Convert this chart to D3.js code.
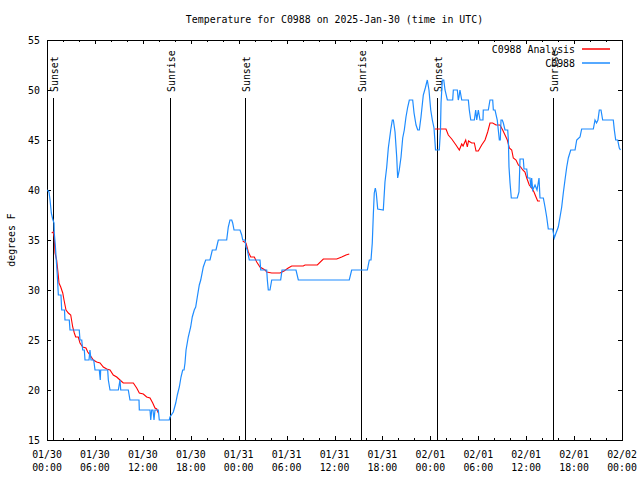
<!DOCTYPE html>
<html>
<head>
<meta charset="utf-8">
<script src="https://cdn.jsdelivr.net/npm/d3@7"></script>
<style>
  body { margin: 0; background: #fff; }
  svg { display: block; font-family: "DejaVu Sans Mono", "Liberation Mono", monospace; }
</style>
</head>
<body>
<svg id="chart" width="640" height="480"></svg>
<script>
// ---- data (hours since 2025-01-30 00:00 UTC) ----
const titleText = "Temperature for C0988 on 2025-Jan-30 (time in UTC)";
const yLabel = "degrees F";
const seriesNames = ["C0988 Analysis", "C0988"];

const obsHours = [0.04,0.25,0.38,0.54,0.71,0.88,0.91,1.04,1.16,1.29,1.42,1.75,1.84,2.19,2.25,2.79,2.88,4.04,4.13,4.35,4.47,4.67,4.76,5.26,5.38,5.51,5.85,6.01,6.55,6.67,6.72,7.6,7.68,7.89,8.93,9.14,9.23,10.18,10.39,11.52,11.56,12.9,12.99,13.11,13.27,13.4,13.52,13.94,14.06,15.31,15.4,15.82,16.12,16.32,16.57,16.78,16.99,17.16,17.28,17.41,17.69,17.99,18.19,18.44,18.62,18.82,19.07,19.25,19.57,19.87,20.41,20.7,21.16,21.45,22.5,22.7,22.91,23.13,23.25,23.42,24.17,24.38,24.51,24.79,24.92,25.08,25.33,26.67,26.76,27.51,27.59,27.71,27.92,28.14,29.26,29.43,31.18,31.47,37.85,38.15,40.11,40.36,40.57,40.73,40.86,40.98,41.11,41.23,41.41,42.11,42.32,42.54,42.74,43.04,43.24,43.37,43.58,43.79,43.91,44.11,44.33,44.54,44.74,44.95,45.17,45.37,45.79,45.96,46.21,46.42,46.62,46.83,47.12,47.37,47.62,47.83,48.05,48.25,48.46,48.65,49.12,49.27,49.34,49.5,49.68,49.84,50.13,50.8,50.88,51.38,51.5,51.59,51.71,51.93,52.76,52.88,53.06,53.51,53.68,53.81,54.01,54.22,54.59,54.63,55.26,55.47,55.81,55.89,56.1,56.38,56.51,56.64,56.76,56.85,57.01,57.14,57.35,57.69,57.77,57.85,57.98,58.14,58.89,59.1,59.23,59.64,59.73,60.07,60.19,60.48,60.6,60.69,60.82,61.11,61.36,61.61,61.73,62.15,62.36,62.57,62.77,63.32,63.52,63.74,64.02,64.24,64.45,64.65,64.86,65.08,65.28,65.58,66.12,66.33,66.74,66.95,68.41,68.62,68.81,68.99,69.16,69.37,69.58,70.91,71.04,71.21,71.46,71.66,71.81];
const obsTemps = [40,39.8,39,37.7,37.1,36.7,35.7,34.5,33,31.5,29.5,29.5,28,28,27,27,26,26,25,25,24,24,23,23,24,23,23,22,22,21,22,22,21,20,20,21,20,20,19,19,18,18,17,18,18,17,18,18,17,17,17.3,17.8,18.7,19.5,20.3,21.3,22,22,22.7,24,25.3,26.3,27.3,28,28.3,29.3,30.5,31,32.3,33,33,34,34,35,35,36.3,37,37,36.7,36,36,35.5,35,35,34.3,34,33,33,32,32,31,30,30,31,31,32,32,31,31,32,32,33,33,34.7,37.5,39.7,40.2,39.7,38.1,38,40.8,42.3,44.2,46,47,47,45.8,43.3,41.2,42,43.3,45.2,46,47.3,48.3,49,49,47.7,46.5,46,46,47.3,49.5,50.2,51,50,48,47,46.2,44,44,46,48.7,51,51,50,49,49,50,50,49,49.3,50,49,49,48,47,47,48,47,48,47,47,48,48,49,49,48,48,47,46,45,45,47,47,46.7,46,46,45,42.3,40.7,39.2,39.2,39.8,43.1,43.1,42.1,42.1,41.2,41.2,40.2,41.2,40,40.5,40,41.2,39.2,39.2,38.3,37.3,36.1,36.1,35.2,35.7,36.3,37.3,38.3,39.7,41,42.3,43.2,44,44,45,45.3,46.1,46.1,47,46.7,47,48,48,47,47,46,45,45,44.2,44];

const anaHours = [0.59,0.79,0.91,1.0,1.21,1.41,1.5,1.72,1.97,2.13,2.38,2.67,2.97,3.22,3.42,3.59,3.92,4.13,4.47,4.88,5.1,5.38,5.8,6.22,6.64,7.05,7.48,7.89,8.3,8.73,9.14,9.55,10.81,11.23,11.56,12.06,12.48,12.9,13.24,13.52,13.74,13.94,
  19.0,
  24.51,24.92,25.21,25.51,25.96,26.26,26.67,27.3,27.51,28.14,29.18,29.68,30.21,30.64,32.09,32.31,33.85,34.6,36.28,36.9,37.44,37.85,
  43.0,
  48.58,49.96,50.25,50.68,51.21,51.63,51.93,52.1,52.43,52.63,52.78,53.18,53.51,53.72,54.01,54.43,54.85,55.18,55.47,55.81,56.22,56.72,57.06,57.35,57.64,57.89,58.19,58.39,58.73,59.02,59.32,59.57,59.85,60.07,60.39,60.69,60.98,61.23,61.44,61.73];
const anaTemps = [35.7,35.8,35.2,33.7,33,31.5,30.7,30.3,29.7,29,28,27.7,27.5,26.3,25.7,25.3,25.3,24.7,24.3,24.2,23.8,23.5,23,22.8,22.7,22.3,22.1,22,21.5,21.3,21,20.7,20.7,20.2,19.7,19.6,19.3,19.2,18.7,18.2,18.1,17.7,
  null,
  34.9,34.7,33.8,33.3,33.3,32.8,32.3,32,31.8,31.7,31.7,31.9,32.2,32.4,32.4,32.5,32.5,33.1,33.1,33.3,33.5,33.6,
  null,
  46.1,46.1,45.5,45.1,44.5,44,44.6,44.4,45,44.3,44.9,44.7,44.7,43.9,43.9,44.5,45,45.8,46.7,46.7,46.5,46.5,46,45.5,45,44.2,44,43.2,43,42.5,42.3,42,41.8,41.2,40.5,40.2,39.8,39.3,38.9,38.9];

const sunHours = [0.79, 15.38, 24.83, 39.35, 48.88, 63.4];
const sunLabels = ["Sunset", "Sunrise", "Sunset", "Sunrise", "Sunset", "Sunrise"];
const sunLineTop = 49.2; // degrees F where annotation line ends

const yTicks = [15, 20, 25, 30, 35, 40, 45, 50, 55];
const startUTC = Date.UTC(2025, 0, 30);
const endUTC = Date.UTC(2025, 1, 2);

// ---- layout ----
const colors = { ana: "#ff0000", obs: "#1e8cff" };
const L = 47, R = 622, T = 40, B = 440;
const svg = d3.select("#chart");
const toDate = h => new Date(startUTC + h * 3600000);

const x = d3.scaleUtc().domain([new Date(startUTC), new Date(endUTC)]).range([L, R]);
const y = d3.scaleLinear().domain([15, 55]).range([B, T]);

// title
svg.append("text").attr("x", (L + R) / 2).attr("y", 23)
  .attr("text-anchor", "middle").attr("font-size", "9.9px").text(titleText);

// y label
svg.append("text").attr("transform", "translate(15,240) rotate(-90)")
  .attr("text-anchor", "middle").attr("font-size", "9.9px").text(yLabel);

// ticks
const minorTicks = d3.utcHour.every(2).range(new Date(startUTC), new Date(endUTC + 1));
const majorTicks = d3.utcHour.every(6).range(new Date(startUTC), new Date(endUTC + 1));

function styleAxis(g) {
  g.select(".domain").remove();
  g.selectAll("line").attr("stroke", "#000").attr("shape-rendering", "crispEdges");
  g.selectAll("text").attr("font-family", "DejaVu Sans Mono, monospace").attr("font-size", "9.9px").attr("fill", "#000");
}

svg.append("g").attr("transform", `translate(0,${B})`)
  .call(d3.axisBottom(x).tickValues(minorTicks).tickSize(-2).tickFormat(""))
  .call(styleAxis);
svg.append("g").attr("transform", `translate(0,${B})`)
  .call(d3.axisBottom(x).tickValues(majorTicks).tickSize(-4).tickFormat(""))
  .call(styleAxis);
svg.append("g").attr("transform", `translate(0,${T})`)
  .call(d3.axisTop(x).tickValues(minorTicks).tickSize(-2).tickFormat(""))
  .call(styleAxis);
svg.append("g").attr("transform", `translate(0,${T})`)
  .call(d3.axisTop(x).tickValues(majorTicks).tickSize(-4).tickFormat(""))
  .call(styleAxis);

// x labels (two lines)
const fmtDate = d3.utcFormat("%m/%d"), fmtTime = d3.utcFormat("%H:%M");
const xl = svg.append("g").attr("font-size", "9.9px").attr("text-anchor", "middle");
majorTicks.forEach(t => {
  xl.append("text").attr("x", x(t)).attr("y", 458).text(fmtDate(t));
  xl.append("text").attr("x", x(t)).attr("y", 471).text(fmtTime(t));
});

svg.append("g").attr("transform", `translate(${L},0)`)
  .call(d3.axisLeft(y).tickValues(yTicks).tickSize(-4).tickPadding(7))
  .call(styleAxis);
svg.append("g").attr("transform", `translate(${R},0)`)
  .call(d3.axisRight(y).tickValues(yTicks).tickSize(-4).tickFormat(""))
  .call(styleAxis);

// frame
svg.append("rect").attr("x", L).attr("y", T).attr("width", R - L).attr("height", B - T)
  .attr("fill", "none").attr("stroke", "#000").attr("shape-rendering", "crispEdges");

// sun annotations
const sun = svg.append("g");
sunHours.forEach((h, i) => {
  const sx = Math.round(x(toDate(h))) + 0.5;
  sun.append("line").attr("x1", sx).attr("x2", sx).attr("y1", y(15)).attr("y2", y(sunLineTop))
    .attr("stroke", "#000").attr("shape-rendering", "crispEdges");
  sun.append("text").attr("transform", `translate(${sx + 4.5},${y(sunLineTop) - 6}) rotate(-90)`)
    .attr("font-size", "9.9px").text(sunLabels[i]);
});

// series
const obs = obsHours.map((h, i) => ({ t: toDate(h), v: obsTemps[i] }));
const ana = anaHours.map((h, i) => ({ t: toDate(h), v: anaTemps[i] }));
const line = d3.line().defined(d => d.v != null).x(d => x(d.t)).y(d => y(d.v));

// legend
const lg = svg.append("g").attr("font-size", "9.9px");
[[seriesNames[0], colors.ana, 49], [seriesNames[1], colors.obs, 63]].forEach(([name, c, ly]) => {
  lg.append("text").attr("x", 575).attr("y", ly + 3.5).attr("text-anchor", "end").text(name);
  lg.append("line").attr("x1", 582).attr("x2", 610).attr("y1", ly).attr("y2", ly)
    .attr("stroke", c).attr("stroke-width", 1.5);
});

svg.append("path").datum(ana).attr("d", line).attr("fill", "none")
  .attr("stroke", colors.ana).attr("stroke-width", 1.1);
svg.append("path").datum(obs).attr("d", line).attr("fill", "none")
  .attr("stroke", colors.obs).attr("stroke-width", 1.2);
</script>
</body>
</html>
